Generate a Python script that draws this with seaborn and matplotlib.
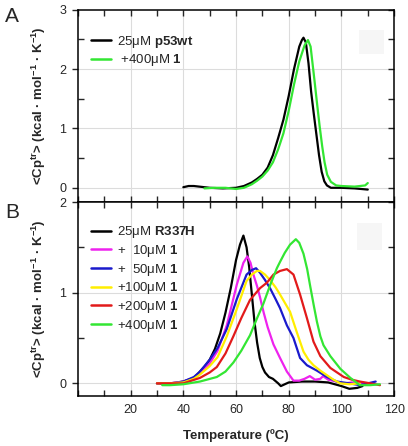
import pandas as pd
import matplotlib
matplotlib.use("Agg")
import matplotlib.pyplot as plt
import seaborn as sns
from matplotlib.ticker import MultipleLocator, FuncFormatter
from matplotlib.patches import Rectangle

# ---- panel A: p53wt with / without compound 1 ----
temp_wt = [40, 42, 44, 46, 48, 50, 55, 60, 63, 66, 68, 70, 72, 74, 76, 78, 80, 82, 84, 85,
           85.6, 86.5, 87.5, 88.5, 89.5, 90.5, 91.5, 92.5, 93.5, 94.5, 96, 100, 105, 110]
cp_wt = [0.01, 0.03, 0.03, 0.02, 0.01, 0.0, -0.01, 0.0, 0.03, 0.09, 0.15, 0.22, 0.34, 0.55, 0.84,
         1.15, 1.55, 2.0, 2.38, 2.49, 2.53, 2.45, 2.1, 1.62, 1.25, 0.9, 0.55, 0.27, 0.11, 0.04,
         0.0, 0.0, -0.01, -0.03]

temp_wt400 = [48, 52, 56, 60, 63, 66, 68, 70, 72, 74, 76, 78, 80, 82, 84, 86, 87.3, 88.3, 89.8,
              90.8, 91.7, 92.7, 93.6, 94.6, 96, 98, 100, 105, 109, 110]
cp_wt400 = [-0.01, 0.0, 0.0, -0.02, 0.0, 0.06, 0.12, 0.19, 0.29, 0.43, 0.65, 0.92, 1.30, 1.74,
            2.13, 2.40, 2.49, 2.38, 1.80, 1.40, 1.05, 0.70, 0.43, 0.22, 0.10, 0.04, 0.03, 0.02,
            0.04, 0.08]

labels_a = ["25\u03bcM $\\mathbf{p53wt}$", " +400\u03bcM $\\mathbf{1}$"]
colors_a = ["#000000", "#33e633"]

# ---- panel B: R337H titration ----
temp_r0 = [30, 35, 40, 44, 46, 48, 50, 52, 54, 56, 58, 60, 61.5, 62.8, 64, 65, 66, 67, 68, 69,
           70, 71, 72.5, 74, 76, 77, 80, 85, 90, 95, 100, 103, 106, 108]
cp_r0 = [0.0, 0.0, 0.02, 0.06, 0.12, 0.18, 0.26, 0.38, 0.55, 0.78, 1.05, 1.36, 1.53, 1.63, 1.50,
         1.28, 0.98, 0.68, 0.45, 0.28, 0.18, 0.12, 0.07, 0.05, 0.0, -0.03, 0.01, 0.02, 0.02, 0.01,
         -0.03, -0.06, -0.05, -0.03]

temp_r10 = [30, 35, 40, 44, 46, 50, 53, 56.5, 60.3, 62.8, 64.3, 65.5, 66.6, 68, 69.1, 70.5, 72,
            74.2, 76.7, 79.3, 81.8, 84, 86, 88, 90, 92, 93, 95, 98, 101, 104, 108]
cp_r10 = [0.0, 0.0, 0.02, 0.06, 0.10, 0.22, 0.36, 0.64, 1.09, 1.33, 1.40, 1.33, 1.20, 1.07, 0.95,
          0.78, 0.62, 0.43, 0.28, 0.13, 0.03, 0.03, 0.05, 0.08, 0.04, 0.05, 0.08, 0.04, 0.02, 0.0,
          0.01, 0.0]

temp_r50 = [30, 35, 40, 44, 46, 50, 53, 56.5, 60.3, 64, 66, 67.6, 69.1, 71, 72.9, 75, 76.7, 79.3,
            81.8, 84.3, 86.9, 90.7, 94.5, 98.2, 103, 107, 110, 113]
cp_r50 = [0.0, -0.01, 0.02, 0.07, 0.12, 0.26, 0.39, 0.60, 0.93, 1.2, 1.25, 1.27, 1.22, 1.14, 1.05,
          0.93, 0.83, 0.64, 0.50, 0.28, 0.20, 0.14, 0.07, 0.02, 0.0, -0.02, 0.0, 0.02]

temp_r100 = [30, 35, 40, 44, 46, 50, 53, 56.5, 60.3, 64, 66, 67.9, 69.1, 71, 72.9, 75, 76.7, 78.5,
             80.5, 83, 85.6, 87.5, 89.4, 92, 94.5, 97, 99.6, 103, 107]
cp_r100 = [0.0, 0.0, 0.01, 0.05, 0.09, 0.19, 0.29, 0.52, 0.82, 1.13, 1.20, 1.24, 1.24, 1.20, 1.14,
           1.06, 0.98, 0.89, 0.79, 0.57, 0.35, 0.26, 0.20, 0.14, 0.09, 0.04, 0.0, -0.01, 0.0]

temp_r200 = [30, 35, 40, 46.3, 50, 52.7, 56, 59, 62, 65.3, 69.1, 71.7, 74.2, 76.7, 79.3, 81.8,
             84.3, 86.9, 89.4, 92, 95.8, 100.9, 104, 107, 111, 114.6]
cp_r200 = [0.0, 0.0, 0.0, 0.06, 0.12, 0.18, 0.33, 0.52, 0.72, 0.92, 1.05, 1.11, 1.20, 1.24, 1.26,
           1.20, 0.98, 0.72, 0.46, 0.30, 0.17, 0.07, 0.04, 0.02, 0.0, -0.02]

temp_r400 = [32, 35, 40, 46.3, 52.7, 56, 59, 62, 65.3, 68, 70.4, 72.9, 75.5, 76.7, 78.5, 80.5,
             82.7, 84, 85.6, 87, 88.1, 89.5, 90.7, 92, 93.2, 95.8, 99.6, 103.4, 107, 111, 114.6]
cp_r400 = [-0.02, -0.02, -0.01, 0.02, 0.07, 0.13, 0.23, 0.36, 0.53, 0.72, 0.88, 1.08, 1.27, 1.34,
           1.44, 1.53, 1.59, 1.55, 1.43, 1.26, 1.08, 0.86, 0.68, 0.52, 0.42, 0.30, 0.16, 0.06,
           -0.02, -0.02, -0.01]

labels_b = ["25\u03bcM $\\mathbf{R337H}$", "+  10\u03bcM $\\mathbf{1}$", "+  50\u03bcM $\\mathbf{1}$",
            "+100\u03bcM $\\mathbf{1}$", "+200\u03bcM $\\mathbf{1}$", "+400\u03bcM $\\mathbf{1}$"]
colors_b = ["#000000", "#ee22ee", "#1a1acc", "#ffee00", "#e21a1a", "#33e633"]


def long_frame(temps, values, labels):
    parts = []
    for t, v, lab in zip(temps, values, labels):
        parts.append(pd.DataFrame({"T": t, "Cp": v, "sample": lab}))
    return pd.concat(parts, ignore_index=True)


df_a = long_frame([temp_wt, temp_wt400], [cp_wt, cp_wt400], labels_a)
df_b = long_frame([temp_r0, temp_r10, temp_r50, temp_r100, temp_r200, temp_r400],
                  [cp_r0, cp_r10, cp_r50, cp_r100, cp_r200, cp_r400], labels_b)

sns.set_theme(style="ticks")
plt.rcParams["font.family"] = ["Liberation Sans", "DejaVu Sans"]
plt.rcParams["mathtext.fontset"] = "custom"
plt.rcParams["mathtext.rm"] = "Liberation Sans"
plt.rcParams["mathtext.bf"] = "Liberation Sans:bold"
plt.rcParams["mathtext.it"] = "Liberation Sans:italic"

fig = plt.figure(figsize=(4.08, 4.46), dpi=100)
ax_a = fig.add_axes([0.191, 0.547, 0.775, 0.431])
ax_b = fig.add_axes([0.191, 0.112, 0.775, 0.435])

ylab = "<Cp$^{\\mathbf{tr}}$> (kcal \u00b7 mol$^{\\mathbf{-1}}$ \u00b7 K$^{\\mathbf{-1}}$)"

panels = [(ax_a, df_a, labels_a, colors_a, (-0.24, 3.0), [0, 1, 2], 0.875),
          (ax_b, df_b, labels_b, colors_b, (-0.14, 2.0), [0, 1], 0.885)]

for ax, df, labs, cols, ylim, ygrid, leg_y in panels:
    for x in [20, 40, 60, 80, 100]:
        ax.axvline(x, color="#dcdcdc", lw=0.8, zorder=0)
    for y in ygrid:
        ax.axhline(y, color="#dcdcdc", lw=0.8, zorder=0)
    sns.lineplot(data=df, x="T", y="Cp", hue="sample", hue_order=labs,
                 palette=dict(zip(labs, cols)), sort=False, estimator=None,
                 lw=1.6, ax=ax)
    ax.set_xlim(0, 120)
    ax.set_ylim(*ylim)
    ax.xaxis.set_major_locator(MultipleLocator(20))
    ax.xaxis.set_minor_locator(MultipleLocator(10))
    ax.xaxis.set_major_formatter(FuncFormatter(lambda v, p: "" if v == 0 else f"{v:.0f}"))
    ax.yaxis.set_major_locator(MultipleLocator(1))
    ax.yaxis.set_minor_locator(MultipleLocator(0.5))
    ax.tick_params(axis="x", which="both", direction="in", length=4, width=1.0,
                   top=True, labelsize=9, pad=6)
    ax.tick_params(axis="y", which="major", direction="out", length=4.5, width=1.0,
                   right=False, labelsize=9, pad=4)
    ax.tick_params(axis="y", which="minor", direction="in", length=4, width=1.0,
                   right=True)
    sec = ax.secondary_yaxis("right")
    sec.yaxis.set_major_locator(MultipleLocator(1))
    sec.tick_params(direction="in", length=4, width=1.0, labelright=False)
    sec.spines["right"].set_visible(False)
    for sp in ax.spines.values():
        sp.set_linewidth(1.1)
        sp.set_color("black")
    ax.set_ylabel(ylab, fontsize=9.5, fontweight="bold", labelpad=8)
    h, l = ax.get_legend_handles_labels()
    ax.legend(h, l, loc="upper left", frameon=False, fontsize=9.5,
              handlelength=1.55, handletextpad=0.45, labelspacing=0.2,
              borderpad=0, borderaxespad=0, bbox_to_anchor=(0.04, leg_y))
    for line in ax.get_legend().get_lines():
        line.set_linewidth(1.8)

ax_a.add_patch(Rectangle((0.889, 0.771), 0.079, 0.125, transform=ax_a.transAxes,
                         color="#f6f6f6", lw=0, zorder=0))
ax_b.add_patch(Rectangle((0.883, 0.753), 0.079, 0.139, transform=ax_b.transAxes,
                         color="#f6f6f6", lw=0, zorder=0))

ax_a.set_xlabel("")
ax_a.tick_params(labelbottom=False)
ax_b.set_xlabel("Temperature (\u00baC)", fontsize=9.5, fontweight="bold", labelpad=9)

fig.text(0.03, 0.962, "A", fontsize=15, va="center", ha="center")
fig.text(0.03, 0.523, "B", fontsize=15, va="center", ha="center")

fig.savefig("out.png", dpi=100)
